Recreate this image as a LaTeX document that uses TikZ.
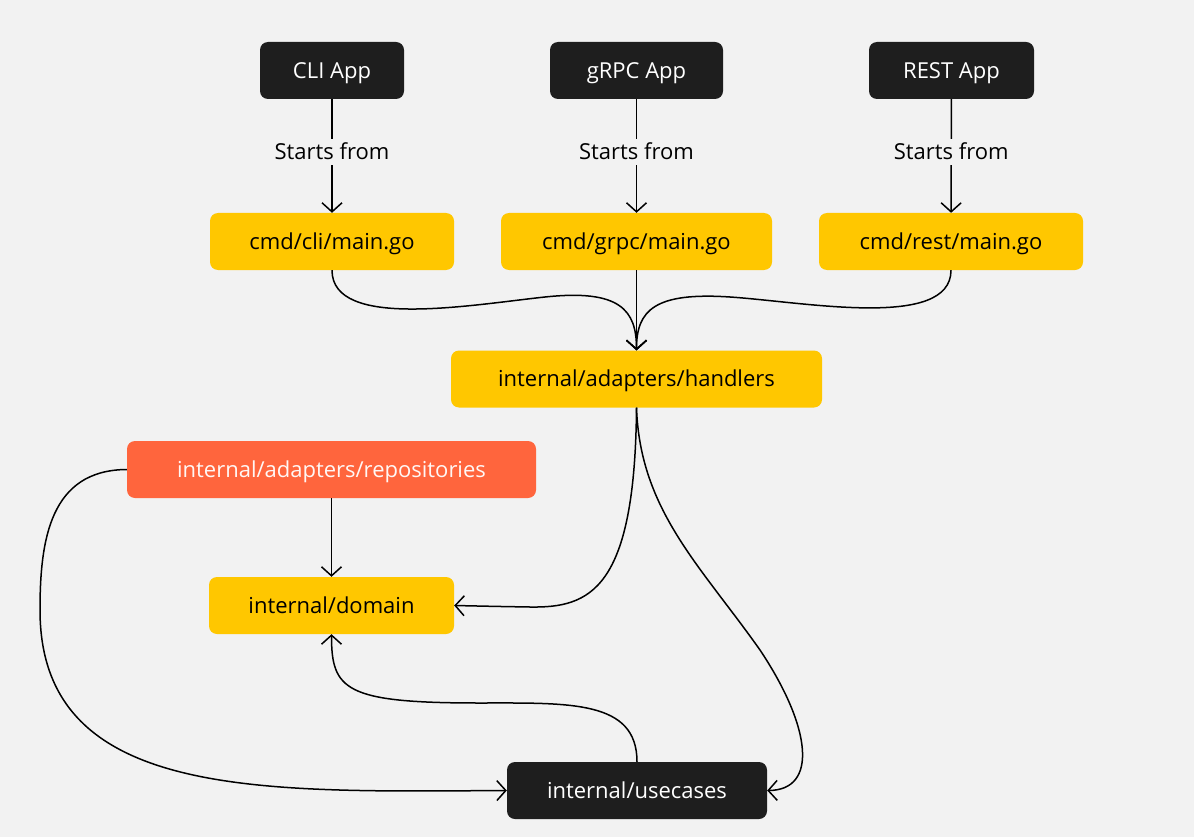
\documentclass[tikz,border=0pt]{standalone}
\usepackage{fontspec}
\setmainfont{Open Sans}
\usetikzlibrary{arrows.meta}
\definecolor{bg}{HTML}{F2F2F2}
\definecolor{blk}{HTML}{1E1E1E}
\definecolor{ylw}{HTML}{FFC700}
\definecolor{org}{HTML}{FF653D}
\tikzset{
  box/.style={rounded corners=8pt, inner sep=0pt, text height=18pt, text depth=2.4pt, font=\fontsize{22}{26}\selectfont},
  darkbox/.style={box, fill=blk, text=white},
  yelbox/.style={box, fill=ylw, text=black},
  orgbox/.style={box, fill=org, text=white!95!org},
  conn/.style={line width=1.5pt, -{Straight Barb[length=9pt,width=20pt,line width=1.5pt]}},
  lbl/.style={fill=bg, inner sep=3pt, text height=18pt, text depth=2.4pt, font=\fontsize{22}{26}\selectfont}
}
\begin{document}
\begin{tikzpicture}[x=1pt,y=-1pt]
\fill[bg] (0,0) rectangle (1194,837);
\useasboundingbox (0,0) rectangle (1194,837);

\node[darkbox, minimum width=144pt, minimum height=57pt] (cliapp) at (332,70.5) {CLI App};
\node[darkbox, minimum width=173pt, minimum height=57pt] (grpcapp) at (636.5,70.5) {gRPC App};
\node[darkbox, minimum width=165pt, minimum height=57pt] (restapp) at (951.5,70.5) {REST App};

\node[yelbox, minimum width=244pt, minimum height=57pt] (climain) at (332,241.5) {cmd/cli/main.go};
\node[yelbox, minimum width=271pt, minimum height=57pt] (grpcmain) at (636.5,241.5) {cmd/grpc/main.go};
\node[yelbox, minimum width=264pt, minimum height=57pt] (restmain) at (951,241.5) {cmd/rest/main.go};

\node[yelbox, minimum width=371pt, minimum height=57pt] (handlers) at (636.5,379) {internal/adapters/handlers};
\node[orgbox, minimum width=409pt, minimum height=57pt] (repos) at (331.5,469.5) {internal/adapters/repositories};
\node[yelbox, minimum width=245pt, minimum height=57pt] (domain) at (331.5,605.5) {internal/domain};
\node[darkbox, minimum width=260pt, minimum height=57pt] (usecases) at (637,790.5) {internal/usecases};

\draw[conn] (cliapp) -- node[lbl, pos=0.465] {Starts from} (climain);
\draw[conn] (grpcapp) -- node[lbl, pos=0.465] {Starts from} (grpcmain);
\draw[conn] (restapp) -- node[lbl, pos=0.465] {Starts from} (restmain);

\draw[conn] (climain.south) .. controls (332,330) and (470,305) .. (545,297) .. controls (620,289) and (636.5,310) .. (handlers.north);
\draw[conn] (grpcmain.south) -- (handlers.north);
\draw[conn] (restmain.south) .. controls (951,330) and (805,302) .. (730,297) .. controls (655,292) and (636.5,310) .. (handlers.north);

\draw[conn] (handlers.south) .. controls (635,590) and (590,608) .. (530,607) .. controls (500,606.5) .. (domain.east);
\draw[conn] (handlers.south) .. controls (640,510) and (700,565) .. (760,650) .. controls (812,728) and (818,790) .. (usecases.east);
\draw[conn] (repos.south) -- (domain.north);
\draw[conn] (repos.west) .. controls (50,470) and (40,540) .. (40,610) .. controls (40,800) and (260,792) .. (usecases.west);
\draw[conn] (usecases.north) .. controls (637,700) and (570,703) .. (480,703) .. controls (345,703) and (331.5,690) .. (domain.south);
\end{tikzpicture}
\end{document}
